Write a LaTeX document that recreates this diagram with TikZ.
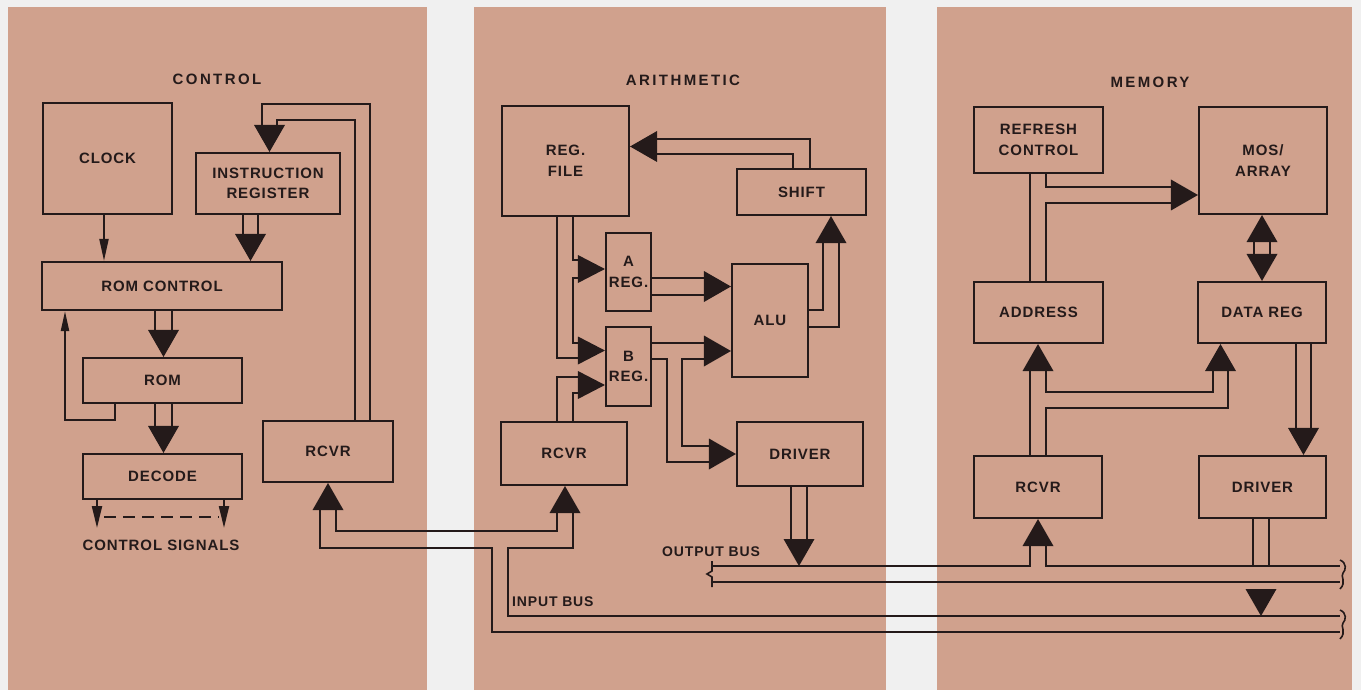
\documentclass[tikz,border=0pt]{standalone}
\usepackage{fontspec}
\setmainfont{Liberation Sans}
\newfontfamily\lblfont{Liberation Sans}[LetterSpace=6]
\newfontfamily\ttlfont{Liberation Sans}[LetterSpace=16]
\usetikzlibrary{arrows.meta}
\definecolor{panel}{RGB}{208,161,141}
\definecolor{paper}{RGB}{240,240,240}
\definecolor{ink}{RGB}{36,26,26}
\tikzset{
  blk/.style={draw=ink, line width=2.1pt, inner sep=0pt, align=center, text=ink,
    font=\lblfont\bfseries\fontsize{15}{20.5}\selectfont},
  ttl/.style={inner sep=0pt, text=ink, font=\ttlfont\bfseries\fontsize{15}{18}\selectfont},
  buslbl/.style={inner sep=0pt, anchor=west, text=ink, font=\lblfont\bfseries\fontsize{14}{16}\selectfont},
  wire/.style={draw=ink, line width=2.1pt, line join=miter},
  thin arrow/.style={wire, -{Triangle[length=22pt,width=9pt]}},
  hdR/.pic={\fill[ink] (0,0) -- (-27,-15.5) -- (-27,15.5) -- cycle;},
  hdRs/.pic={\fill[ink] (0,0) -- (-27,-14) -- (-27,14) -- cycle;},
  hdL/.pic={\fill[ink] (0,0) -- (27,-15.5) -- (27,15.5) -- cycle;},
  hdD/.pic={\fill[ink] (0,0) -- (-15.5,-27) -- (15.5,-27) -- cycle;},
  hdU/.pic={\fill[ink] (0,0) -- (-15.5,27) -- (15.5,27) -- cycle;},
}
\begin{document}
\begin{tikzpicture}[x=1pt,y=-1pt]
\useasboundingbox (0,0) rectangle (1361,690);
\fill[paper] (0,0) rectangle (1361,690);
\fill[panel] (8,7) rectangle (427,690);
\fill[panel] (474,7) rectangle (886,690);
\fill[panel] (937,7) rectangle (1352,690);

% titles
\node[ttl] (tctl) at (217,79) {CONTROL};
\node[ttl] (tari) at (683,80) {ARITHMETIC};
\node[ttl] (tmem) at (1150,82) {MEMORY};

% control boxes
\node[blk, minimum width=129pt, minimum height=111pt] (clock) at (107.5,158.5) {CLOCK};
\node[blk, minimum width=144pt, minimum height=61pt] (ir) at (268,183.5) {INSTRUCTION\\REGISTER};
\node[blk, minimum width=240pt, minimum height=48pt] (romc) at (162,286) {ROM CONTROL};
\node[blk, minimum width=159pt, minimum height=45pt] (rom) at (162.5,380.5) {ROM};
\node[blk, minimum width=159pt, minimum height=45pt] (dec) at (162.5,476.5) {DECODE};
\node[blk, minimum width=130pt, minimum height=61pt] (rcvrc) at (328,451.5) {RCVR};

% arithmetic boxes
\node[blk, minimum width=127pt, minimum height=110pt] (regf) at (565.5,161) {REG.\\FILE};
\node[blk, minimum width=129pt, minimum height=46pt] (shift) at (801.5,192) {SHIFT};
\node[blk, minimum width=45pt, minimum height=78pt] (areg) at (628.5,272) {A\\REG.};
\node[blk, minimum width=76pt, minimum height=113pt] (alu) at (770,320.5) {ALU};
\node[blk, minimum width=45pt, minimum height=79pt] (breg) at (628.5,366.5) {B\\REG.};
\node[blk, minimum width=126pt, minimum height=63pt] (rcvra) at (564,453.5) {RCVR};
\node[blk, minimum width=126pt, minimum height=64pt] (drva) at (800,454) {DRIVER};

% memory boxes
\node[blk, minimum width=129pt, minimum height=66pt] (refr) at (1038.5,140) {REFRESH\\CONTROL};
\node[blk, minimum width=128pt, minimum height=107pt] (mos) at (1263,160.5) {MOS/\\ARRAY};
\node[blk, minimum width=129pt, minimum height=61pt] (addr) at (1038.5,312.5) {ADDRESS};
\node[blk, minimum width=128pt, minimum height=61pt] (datr) at (1262,312.5) {DATA REG};
\node[blk, minimum width=128pt, minimum height=62pt] (rcvrm) at (1038,487) {RCVR};
\node[blk, minimum width=127pt, minimum height=62pt] (drvm) at (1262.5,487) {DRIVER};

% ---------- control connectors
\draw[thin arrow] (104,0 |- clock.south) -- (104,0 |- romc.north);
\draw[wire] (243,0 |- ir.south) -- (243,235);
\draw[wire] (258,0 |- ir.south) -- (258,235);
\pic at (250.5,0 |- romc.north) {hdD};
\draw[wire] (155,0 |- romc.south) -- (155,331);
\draw[wire] (172,0 |- romc.south) -- (172,331);
\pic at (163.5,0 |- rom.north) {hdD};
\draw[wire] (155,0 |- rom.south) -- (155,427);
\draw[wire] (172,0 |- rom.south) -- (172,427);
\pic at (163.5,0 |- dec.north) {hdD};
\draw[wire, -{Triangle[length=20pt,width=8pt]}] (115,0 |- rom.south) -- (115,420) -- (65,420) -- (65,0 |- romc.south);
\draw[wire] (370,0 |- rcvrc.north) -- (370,104) -- (262,104) -- (262,126);
\draw[wire] (355,0 |- rcvrc.north) -- (355,120) -- (277,120) -- (277,126);
\pic at (269.5,0 |- ir.north) {hdD};
\coordinate (cs1) at (97,528);
\coordinate (cs2) at (224,528);
\draw[wire, -{Triangle[length=22pt,width=10pt]}] (97,0 |- dec.south) -- (cs1);
\draw[wire, -{Triangle[length=22pt,width=10pt]}] (224,0 |- dec.south) -- (cs2);
\coordinate (ds1) at (104,517);
\coordinate (ds2) at (219,517);
\draw[wire, dash pattern=on 12pt off 7pt] (ds1) -- (ds2);
\node[inner sep=0pt, text=ink, font=\lblfont\bfseries\fontsize{15}{18}\selectfont] (csl) at (161,545) {CONTROL SIGNALS};

% ---------- arithmetic connectors
\draw[wire] (810,0 |- shift.north) -- (810,139) -- (656,139);
\draw[wire] (793,0 |- shift.north) -- (793,154) -- (656,154);
\pic at (regf.east |- 0,146.5) {hdL};
\draw[wire] (573,0 |- regf.south) -- (573,260) -- (579,260);
\draw[wire] (557,0 |- regf.south) -- (557,358) -- (579,358);
\draw[wire] (579,278) -- (573,278) -- (573,343) -- (579,343);
\pic at (areg.west |- 0,269) {hdRs};
\pic at (breg.west |- 0,350.5) {hdRs};
\draw[wire] (557,0 |- rcvra.north) -- (557,377) -- (579,377);
\draw[wire] (573,0 |- rcvra.north) -- (573,393) -- (579,393);
\pic at (breg.west |- 0,385) {hdRs};
\draw[wire] (areg.east |- 0,278) -- (705,278);
\draw[wire] (areg.east |- 0,295) -- (705,295);
\pic at (alu.west |- 0,286.5) {hdR};
\draw[wire] (breg.east |- 0,343) -- (705,343);
\draw[wire] (705,359) -- (682,359) -- (682,446) -- (710,446);
\draw[wire] (breg.east |- 0,359) -- (667,359) -- (667,462) -- (710,462);
\pic at (alu.west |- 0,351) {hdR};
\pic at (drva.west |- 0,454) {hdR};
\draw[wire] (alu.east |- 0,310) -- (823,310) -- (823,242);
\draw[wire] (alu.east |- 0,327) -- (839,327) -- (839,242);
\pic at (831,0 |- shift.south) {hdU};
\draw[wire] (791,0 |- drva.south) -- (791,539);
\draw[wire] (807,0 |- drva.south) -- (807,539);

% ---------- memory connectors
\draw[wire] (1030,0 |- refr.south) -- (1030,0 |- addr.north);
\draw[wire] (1046,0 |- refr.south) -- (1046,187) -- (1172,187);
\draw[wire] (1046,0 |- addr.north) -- (1046,203) -- (1172,203);
\pic at (mos.west |- 0,195) {hdR};
\draw[wire] (1254,241) -- (1254,255);
\draw[wire] (1270,241) -- (1270,255);
\pic at (1262,0 |- mos.south) {hdU};
\pic at (1262,0 |- datr.north) {hdD};
\draw[wire] (1030,0 |- rcvrm.north) -- (1030,370);
\draw[wire] (1046,370) -- (1046,392) -- (1213,392) -- (1213,370);
\draw[wire] (1046,0 |- rcvrm.north) -- (1046,408) -- (1228,408) -- (1228,370);
\pic at (1038,0 |- addr.south) {hdU};
\pic at (1220.5,0 |- datr.south) {hdU};
\draw[wire] (1296,0 |- datr.south) -- (1296,429);
\draw[wire] (1311,0 |- datr.south) -- (1311,429);
\pic at (1303.5,0 |- drvm.north) {hdD};

% ---------- buses
\coordinate (obL) at (711,566);
\coordinate (obR) at (1340,566);
\coordinate (obL2) at (711,582);
\coordinate (obR2) at (1340,582);
\coordinate (ibR) at (1340,616);
\coordinate (ibR2) at (1340,632);
\pic at (799,0 |- obL) {hdD};
\draw[wire] (obL) -- (1030,566) -- (1030,545);
\draw[wire] (1046,545) -- (1046,566) -- (obR);
\draw[wire] (obL2) -- (obR2);
\pic at (1038,0 |- rcvrm.south) {hdU};
\draw[wire] (1253,0 |- drvm.south) -- (1253,566);
\draw[wire] (1269,0 |- drvm.south) -- (1269,566);
\pic at (1261,0 |- ibR) {hdD};
\draw[wire] (320,508) -- (320,548) -- (492,548) -- (492,632) -- (ibR2);
\draw[wire] (336,508) -- (336,531) -- (557,531) -- (557,512);
\draw[wire] (573,512) -- (573,548) -- (508,548) -- (508,616) -- (ibR);
\pic at (328,0 |- rcvrc.south) {hdU};
\pic at (565,0 |- rcvra.south) {hdU};
% break marks
\draw[wire, line width=1.6pt] (712,561) -- (712,571) -- (707,574) -- (712,577) -- (712,587);
\draw[wire, line width=1.6pt] (1340,560) .. controls (1347,563) and (1346,570) .. (1343,573) .. controls (1340,576) and (1347,582) .. (1340,589);
\draw[wire, line width=1.6pt] (1340,610) .. controls (1347,613) and (1346,620) .. (1343,623) .. controls (1340,626) and (1347,632) .. (1340,639);

\node[buslbl] (obl) at (662,552) {OUTPUT BUS};
\node[buslbl] (ibl) at (512,602) {INPUT BUS};
\end{tikzpicture}
\end{document}
